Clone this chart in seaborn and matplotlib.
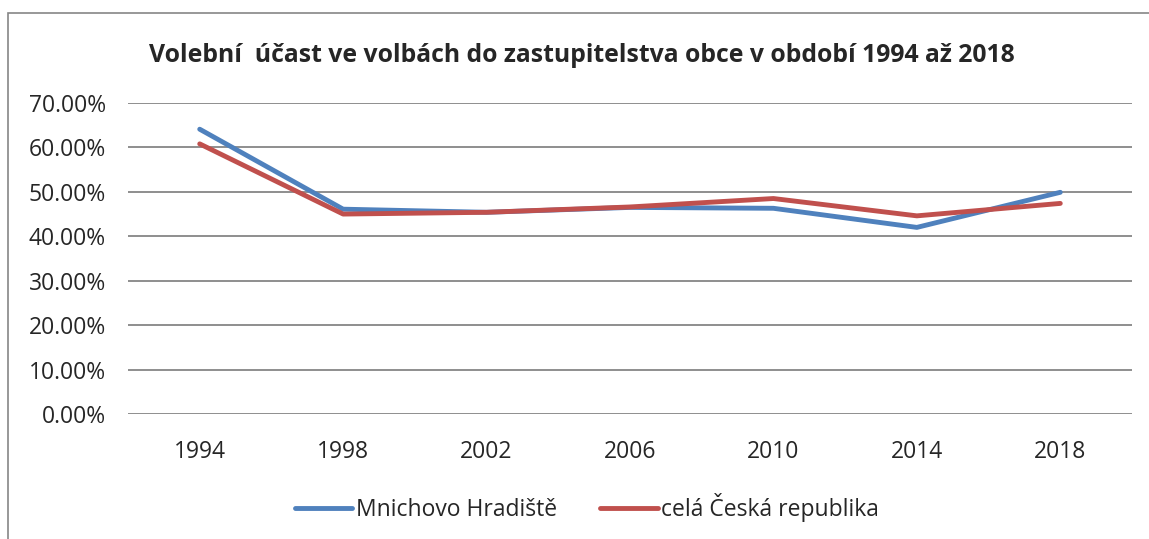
import pandas as pd
import matplotlib.pyplot as plt
import seaborn as sns
from matplotlib.ticker import FuncFormatter
from matplotlib.patches import Rectangle

years = ['1994', '1998', '2002', '2006', '2010', '2014', '2018']
mnichovo = [0.641, 0.461, 0.454, 0.465, 0.463, 0.420, 0.499]
cr = [0.608, 0.450, 0.454, 0.466, 0.485, 0.446, 0.474]
series_names = ['Mnichovo Hradiště', 'celá Česká republika']
colors = ['#4F81BD', '#C0504D']

df = pd.concat([
    pd.DataFrame({'rok': years, 'ucast': mnichovo, 'serie': series_names[0]}),
    pd.DataFrame({'rok': years, 'ucast': cr, 'serie': series_names[1]}),
])

sns.set_style('white')
plt.rcParams['font.family'] = ['Open Sans', 'DejaVu Sans']

fig = plt.figure(figsize=(11.49, 5.39), dpi=100)
ax = fig.add_axes([128 / 1149, 125 / 539, 1004 / 1149, 311 / 539])

sns.lineplot(data=df, x='rok', y='ucast', hue='serie', palette=colors,
             linewidth=3.5, ax=ax, sort=False, solid_capstyle='round')

ax.set_ylim(0, 0.7)
ax.set_xlim(-0.5, len(years) - 0.5)
ax.set_yticks([i / 10 for i in range(8)])
ax.yaxis.set_major_formatter(FuncFormatter(lambda v, p: f'{v * 100:.2f}%'))
ax.grid(axis='y', color='#868686', linewidth=1.3)
ax.set_axisbelow(True)
for s in ['top', 'right', 'left', 'bottom']:
    ax.spines[s].set_visible(False)
ax.tick_params(axis='both', labelsize=16.5, length=0)
ax.tick_params(axis='y', pad=16)
ax.tick_params(axis='x', pad=19)
ax.set_xlabel('')
ax.set_ylabel('')

ax.legend_.remove()
handles, labels = ax.get_legend_handles_labels()
for h in handles:
    h.set_solid_capstyle('round')
fig.legend(handles, labels, loc='center', bbox_to_anchor=(587 / 1149, 31 / 539), ncol=2,
           frameon=False, fontsize=16.5, handlelength=2.5, handletextpad=0.15,
           columnspacing=1.9)

fig.text(0.506, 484 / 539, 'Volební  účast ve volbách do zastupitelstva obce v období 1994 až 2018',
         ha='center', va='center', fontsize=17.8, fontweight='bold')

fig.patches.append(Rectangle((8 / 1149, -0.1), 1.2, (539 - 13) / 539 + 0.1,
                             transform=fig.transFigure, fill=False,
                             edgecolor='#868686', linewidth=1.2))

fig.savefig('out.png', dpi=100)
